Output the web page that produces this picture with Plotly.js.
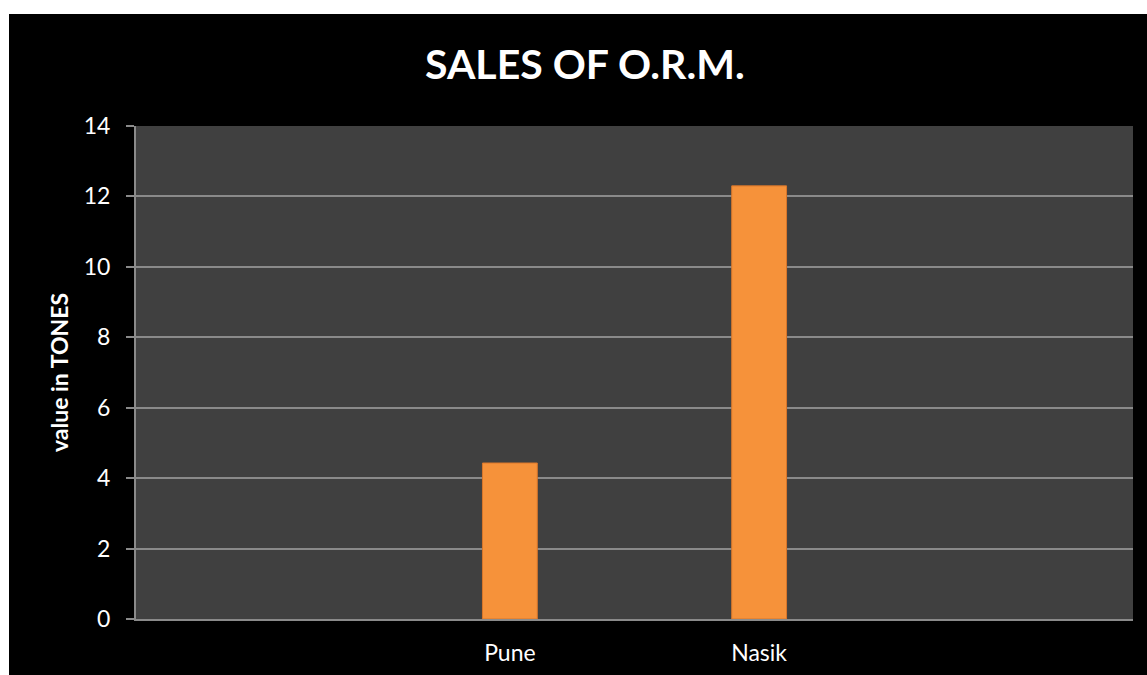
<!DOCTYPE html>
<html>
<head>
<meta charset="utf-8">
<script src="https://cdn.plot.ly/plotly-3.0.1.min.js"></script>
<style>
  html, body { margin: 0; padding: 0; background: #ffffff; width: 1147px; height: 675px; overflow: hidden; }
  #chart { position: absolute; left: 9px; top: 14px; width: 1138px; height: 661px; }
</style>
</head>
<body>
<div id="chart"></div>
<script>
// Category slots shown on the axis (outer slots are empty)
const categorySlots = [' ', 'Pune', 'Nasik', '  '];
// Data
const cities = ['Pune', 'Nasik'];
const salesTones = [4.43, 12.3];
const yTicks = [0, 2, 4, 6, 8, 10, 12, 14];

const trace = {
  type: 'bar',
  x: cities,
  y: salesTones,
  width: 0.22,
  marker: {
    color: '#F6923A',
    line: { color: '#D9762A', width: 1 }
  },
  hoverinfo: 'x+y'
};

const layout = {
  width: 1138,
  height: 661,
  paper_bgcolor: '#000000',
  plot_bgcolor: '#404040',
  margin: { l: 127, r: 14, t: 112, b: 56 },
  showlegend: false,
  font: { family: 'Lato, "Open Sans", sans-serif', color: '#ffffff' },
  title: {
    text: '<b>SALES OF O.R.M.</b>',
    font: { family: 'Lato, "Open Sans", sans-serif', size: 41, color: '#ffffff' },
    x: 0.506, xref: 'container', xanchor: 'center',
    y: 0.924, yref: 'container', yanchor: 'middle'
  },
  xaxis: {
    type: 'category',
    categoryorder: 'array',
    categoryarray: categorySlots,
    range: [-0.5, 3.5],
    showgrid: false,
    showline: true,
    linecolor: '#8a8a8a',
    linewidth: 2,
    ticks: '',
    tickfont: { size: 23, color: '#ffffff' },
    ticklabelstandoff: 12,
    zeroline: false,
    fixedrange: true
  },
  yaxis: {
    range: [0, 14],
    tickvals: yTicks,
    ticktext: yTicks.map(String),
    showgrid: true,
    gridcolor: '#8a8a8a',
    gridwidth: 2,
    showline: true,
    linecolor: '#8a8a8a',
    linewidth: 2,
    ticks: 'outside',
    ticklen: 8,
    tickwidth: 2,
    tickcolor: '#8a8a8a',
    tickfont: { size: 23, color: '#ffffff' },
    ticklabelstandoff: 11,
    zeroline: false,
    title: {
      text: '<b>value in TONES</b>',
      font: { size: 23, color: '#ffffff' },
      standoff: 9
    },
    fixedrange: true
  },
  bargap: 0
};

Plotly.newPlot('chart', [trace], layout, { displayModeBar: false, staticPlot: true });
</script>
</body>
</html>
